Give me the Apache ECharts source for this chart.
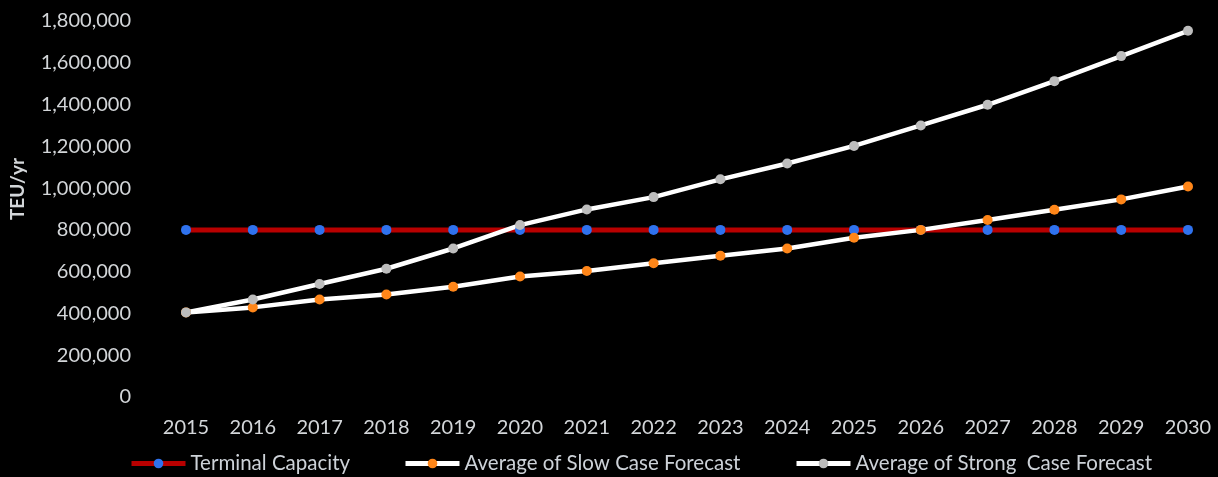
<!DOCTYPE html>
<html>
<head>
<meta charset="utf-8">
<title>Terminal Capacity vs Forecast</title>
<script src="https://cdn.jsdelivr.net/npm/echarts@6/dist/echarts.min.js"></script>
<style>
  html, body { margin: 0; padding: 0; background: #000; }
  #chart { width: 1218px; height: 477px; }
</style>
</head>
<body>
<div id="chart"></div>
<script>
// Years on the horizontal axis
const years = ['2015', '2016', '2017', '2018', '2019', '2020', '2021', '2022',
               '2023', '2024', '2025', '2026', '2027', '2028', '2029', '2030'];

// Annual throughput, TEU per year
const terminalCapacity = [800000, 800000, 800000, 800000, 800000, 800000, 800000, 800000,
                          800000, 800000, 800000, 800000, 800000, 800000, 800000, 800000];
const slowCase = [405000, 429000, 467000, 491000, 528000, 577000, 603000, 640000,
                  676000, 711000, 762000, 800000, 847000, 896000, 946000, 1008000];
const strongCase = [405000, 467000, 541000, 614000, 711000, 823000, 898000, 957000,
                    1042000, 1118000, 1202000, 1300000, 1399000, 1512000, 1632000, 1753000];

const seriesNames = ['Terminal Capacity', 'Average of Slow Case Forecast', 'Average of Strong  Case Forecast'];

const FONT = 'Lato, "Open Sans", sans-serif';
const LABEL_COLOR = '#d3d6d9';

const chart = echarts.init(document.getElementById('chart'), null, { renderer: 'canvas' });

// One legend block per series so each entry sits at its own x position
function legendAt(name, left) {
  return {
    data: [name],
    left: left,
    top: 453,
    padding: 0,
    itemWidth: 54,
    itemHeight: 12,
    itemGap: 0,
    lineStyle: { width: 5 },
    textStyle: { color: '#cdd2d8', fontFamily: FONT, fontSize: 20.5 },
    selectedMode: false
  };
}

chart.setOption({
  backgroundColor: '#000000',
  animation: false,
  grid: { left: 185, right: 30, top: 21, bottom: 80, containLabel: false },
  legend: [
    legendAt(seriesNames[0], 129),
    legendAt(seriesNames[1], 403),
    legendAt(seriesNames[2], 794)
  ],
  xAxis: {
    type: 'category',
    data: years,
    boundaryGap: false,
    axisLine: { show: false },
    axisTick: { show: false },
    splitLine: { show: false },
    axisLabel: { color: LABEL_COLOR, fontFamily: FONT, fontSize: 20, margin: 21 }
  },
  yAxis: {
    type: 'value',
    min: 0,
    max: 1800000,
    interval: 200000,
    name: 'TEU/yr',
    nameLocation: 'middle',
    nameRotate: 90,
    nameGap: 159,
    nameTextStyle: {
      color: LABEL_COLOR, fontFamily: FONT, fontSize: 19, fontWeight: 'bold',
      padding: [0, 0, 0, 40]
    },
    axisLine: { show: false },
    axisTick: { show: false },
    splitLine: { show: false },
    axisLabel: {
      color: LABEL_COLOR, fontFamily: FONT, fontSize: 20, margin: 55,
      formatter: v => v.toLocaleString('en-US')
    }
  },
  series: [
    {
      name: seriesNames[0],
      type: 'line',
      data: terminalCapacity,
      symbol: 'circle',
      symbolSize: 10,
      lineStyle: { color: '#b80000', width: 5 },
      itemStyle: { color: '#2f72ee' }
    },
    {
      name: seriesNames[1],
      type: 'line',
      data: slowCase,
      symbol: 'circle',
      symbolSize: 10,
      lineStyle: { color: '#ffffff', width: 4.5 },
      itemStyle: { color: '#ff8619' }
    },
    {
      name: seriesNames[2],
      type: 'line',
      data: strongCase,
      symbol: 'circle',
      symbolSize: 10,
      lineStyle: { color: '#ffffff', width: 4.5 },
      itemStyle: { color: '#bdbdbd' }
    }
  ]
});
</script>
</body>
</html>
